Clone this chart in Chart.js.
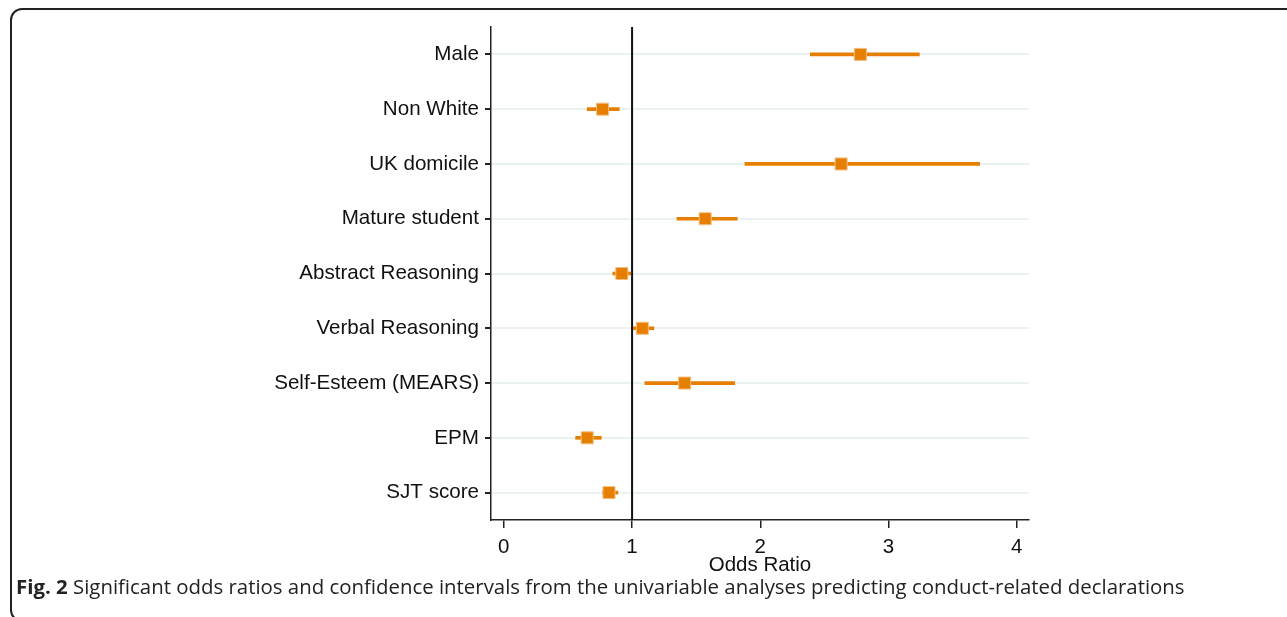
<!DOCTYPE html>
<html>
<head>
<meta charset="utf-8">
<script src="https://cdn.jsdelivr.net/npm/chart.js@4.4.1/dist/chart.umd.min.js"></script>
<style>
  html, body { margin: 0; padding: 0; background: #fff; width: 1287px; height: 617px; overflow: hidden; }
  #frame { position: absolute; left: 10px; top: 8px; width: 1300px; height: 614px; border: 2px solid #222; border-radius: 12px; box-sizing: border-box; }
  #wrap { position: absolute; left: 0; top: 0; width: 1287px; height: 617px; }
  #caption { position: absolute; left: 16px; top: 572px; font-family: "Open Sans", sans-serif; font-size: 20.4px; color: #222; white-space: nowrap; }
  #caption b { font-weight: 700; }
</style>
</head>
<body>
<div id="frame"></div>
<div id="wrap"><canvas id="c" width="1287" height="617"></canvas></div>
<div id="caption"><b>Fig. 2</b> Significant odds ratios and confidence intervals from the univariable analyses predicting conduct-related declarations</div>
<script>
const categories = ['Male', 'Non White', 'UK domicile', 'Mature student', 'Abstract Reasoning', 'Verbal Reasoning', 'Self-Esteem (MEARS)', 'EPM', 'SJT score'];
const oddsRatio = [2.78, 0.77, 2.63, 1.57, 0.92, 1.08, 1.41, 0.65, 0.82];
const ciLower = [2.39, 0.65, 1.88, 1.35, 0.85, 1.01, 1.10, 0.56, 0.77];
const ciUpper = [3.24, 0.90, 3.71, 1.82, 0.99, 1.17, 1.80, 0.76, 0.89];
const xTicks = [0, 1, 2, 3, 4];
const referenceLine = 1;
const xAxisTitle = 'Odds Ratio';

const ORANGE = '#E67E00';
const FONT = 'Liberation Sans, Arial, sans-serif';

const refLinePlugin = {
  id: 'refLine',
  beforeDatasetsDraw(chart) {
    const { ctx, chartArea, scales } = chart;
    const x = scales.x.getPixelForValue(referenceLine);
    ctx.save();
    ctx.strokeStyle = '#111';
    ctx.lineWidth = 2;
    ctx.beginPath();
    ctx.moveTo(x, chartArea.top);
    ctx.lineTo(x, chartArea.bottom);
    ctx.stroke();
    ctx.restore();
  }
};

new Chart(document.getElementById('c'), {
  type: 'bar',
  data: {
    labels: categories,
    datasets: [
      {
        type: 'scatter',
        data: oddsRatio.map((v, i) => ({ x: v, y: categories[i] })),
        pointStyle: 'rect',
        pointRadius: 8.5,
        pointHoverRadius: 8.5,
        backgroundColor: ORANGE,
        borderColor: 'rgba(245,190,130,1)',
        borderWidth: 1,
        order: 1
      },
      {
        type: 'bar',
        data: ciLower.map((l, i) => [l, ciUpper[i]]),
        backgroundColor: ORANGE,
        borderWidth: 0,
        barThickness: 3,
        order: 2
      }
    ]
  },
  options: {
    indexAxis: 'y',
    responsive: false,
    animation: false,
    devicePixelRatio: 1,
    layout: { padding: { left: 0, right: 258, top: 27, bottom: 39 } },
    plugins: { legend: { display: false }, tooltip: { enabled: false } },
    scales: {
      x: {
        type: 'linear',
        offset: false,
        min: -0.10,
        max: 4.095,
        afterBuildTicks(scale) { scale.ticks = xTicks.map(v => ({ value: v })); },
        afterFit(scale) { scale.height = 58; },
        ticks: { color: '#111', font: { family: FONT, size: 20.5 }, padding: 7 },
        grid: { offset: false, drawOnChartArea: false, tickColor: '#222', tickLength: 8, lineWidth: 1.5 },
        border: { display: true, color: '#222', width: 1.5 },
        title: { display: true, text: xAxisTitle, color: '#111', font: { family: FONT, size: 20.5 }, padding: { top: 0, bottom: 0 } }
      },
      y: {
        type: 'category',
        labels: categories,
        offset: true,
        afterFit(scale) { scale.width = 491; },
        ticks: { color: '#111', font: { family: FONT, size: 20.6 }, padding: 6 },
        grid: { color: '#E9F1F3', lineWidth: 2, tickColor: '#222', tickLength: 6, offset: false },
        border: { display: true, color: '#222', width: 1.5 }
      }
    }
  },
  plugins: [refLinePlugin]
});
</script>
</body>
</html>
